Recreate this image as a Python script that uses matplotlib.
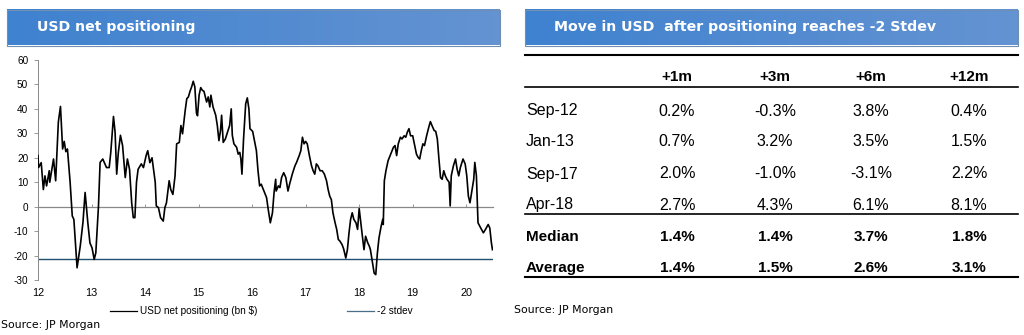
import matplotlib.pyplot as plt
import numpy as np
from matplotlib.patches import Rectangle

# USD net positioning (bn $), decimal year (12 = 2012)
years = [12.00, 12.01, 12.06, 12.10, 12.13, 12.16, 12.21, 12.22, 12.29, 12.33,
         12.38, 12.42, 12.46, 12.49, 12.52, 12.55, 12.60, 12.64, 12.67, 12.73,
         12.79, 12.84, 12.88, 12.93, 12.97, 13.01, 13.05, 13.08, 13.13, 13.16,
         13.21, 13.28, 13.33, 13.36, 13.41, 13.44, 13.47, 13.50, 13.54, 13.58,
         13.63, 13.67, 13.71, 13.75, 13.78, 13.81, 13.84, 13.87, 13.93, 13.97,
         14.02, 14.05, 14.09, 14.13, 14.19, 14.21, 14.25, 14.29, 14.34, 14.37,
         14.40, 14.45, 14.48, 14.52, 14.56, 14.59, 14.64, 14.67, 14.70, 14.75,
         14.78, 14.81, 14.84, 14.87, 14.90, 14.93, 14.96, 14.98, 15.01, 15.04,
         15.07, 15.10, 15.15, 15.18, 15.21, 15.23, 15.27, 15.32, 15.35, 15.38,
         15.41, 15.43, 15.46, 15.50, 15.54, 15.58, 15.61, 15.63, 15.66, 15.71,
         15.74, 15.77, 15.79, 15.81, 15.84, 15.88, 15.91, 15.94, 15.96, 16.01,
         16.05, 16.08, 16.11, 16.14, 16.17, 16.22, 16.27, 16.30, 16.34, 16.38,
         16.41, 16.44, 16.45, 16.49, 16.52, 16.55, 16.59, 16.63, 16.67, 16.70,
         16.75, 16.80, 16.83, 16.88, 16.91, 16.94, 16.97, 17.00, 17.03, 17.07,
         17.11, 17.14, 17.17, 17.20, 17.23, 17.27, 17.31, 17.35, 17.39, 17.42,
         17.45, 17.48, 17.51, 17.55, 17.58, 17.61, 17.64, 17.68, 17.71, 17.75,
         17.78, 17.81, 17.84, 17.87, 17.90, 17.94, 17.97, 18.00, 18.03, 18.06,
         18.09, 18.12, 18.16, 18.19, 18.21, 18.25, 18.28, 18.31, 18.34, 18.37,
         18.41, 18.44, 18.45, 18.47, 18.50, 18.54, 18.59, 18.64, 18.67, 18.70,
         18.73, 18.77, 18.80, 18.84, 18.87, 18.90, 18.93, 18.96, 19.00, 19.03,
         19.07, 19.10, 19.13, 19.16, 19.19, 19.22, 19.26, 19.30, 19.33, 19.36,
         19.40, 19.43, 19.46, 19.49, 19.52, 19.55, 19.58, 19.61, 19.64, 19.68,
         19.70, 19.72, 19.76, 19.80, 19.83, 19.86, 19.89, 19.94, 19.98, 20.01,
         20.04, 20.07, 20.11, 20.14, 20.16, 20.19, 20.21, 20.22, 20.27, 20.32,
         20.36, 20.41, 20.44, 20.47, 20.49]
positioning = [20.9, 16.0, 18.0, 7.0, 12.6, 8.5, 14.7, 10.0, 19.5, 10.6,
               34.6, 41.0, 23.6, 26.7, 22.5, 23.6, 10.0, -3.8, -5.2, -25.0,
               -16.0, -6.4, 5.8, -6.4, -14.8, -16.9, -21.6, -18.9, 0.3, 18.1,
               19.5, 16.0, 16.0, 22.3, 36.9, 30.5, 13.3, 22.0, 29.2, 25.0,
               11.9, 19.5, 15.3, 1.6, -4.5, -4.5, 10.0, 15.3, 17.5, 16.0,
               20.9, 22.9, 18.0, 20.0, 10.0, 0.3, -0.4, -4.5, -5.9, -0.4,
               1.6, 10.6, 7.0, 5.0, 12.6, 25.7, 26.3, 33.2, 29.8, 39.4,
               44.2, 44.9, 47.2, 49.0, 51.3, 49.0, 38.3, 37.2, 45.7, 48.7,
               47.6, 47.2, 42.8, 44.9, 40.8, 45.6, 40.8, 37.4, 33.2, 27.0,
               31.2, 37.4, 26.3, 27.7, 30.5, 33.2, 40.0, 29.2, 25.7, 24.3,
               21.5, 22.2, 19.5, 13.3, 27.7, 42.1, 44.5, 40.0, 31.9, 30.8,
               26.3, 22.9, 14.7, 8.5, 9.2, 6.4, 3.7, -1.0, -6.6, -2.5,
               5.8, 11.2, 6.4, 8.5, 7.8, 11.9, 13.9, 11.9, 6.4, 9.2,
               13.3, 16.7, 18.1, 20.9, 22.9, 28.4, 25.7, 26.7, 25.7, 20.9,
               16.7, 14.7, 13.3, 17.5, 16.7, 14.7, 14.7, 13.3, 10.6, 7.0,
               4.3, 2.9, -2.5, -6.6, -9.3, -13.4, -14.1, -15.5, -17.3, -21.0,
               -17.6, -10.7, -5.2, -2.5, -5.2, -6.6, -9.3, -0.8, -6.6, -12.1,
               -17.6, -12.1, -14.8, -16.2, -17.6, -23.0, -27.2, -27.8, -19.0, -12.8,
               -8.0, -5.2, -7.3, 10.6, 14.7, 18.8, 21.5, 24.3, 25.0, 20.9,
               25.7, 28.4, 27.7, 29.0, 28.4, 30.5, 31.9, 29.0, 29.0, 25.7,
               21.5, 20.2, 19.5, 22.9, 25.7, 25.0, 29.0, 32.5, 34.8, 33.2,
               31.2, 30.8, 27.7, 19.5, 11.9, 11.2, 14.7, 12.6, 11.2, 10.0,
               0.3, 12.6, 16.7, 19.5, 15.3, 12.6, 16.0, 19.5, 17.5, 12.6,
               4.3, 1.6, 7.0, 11.2, 18.1, 12.6, 0.3, -6.6, -8.7, -10.7,
               -9.3, -7.3, -8.7, -14.8, -17.6]
minus_2_stdev = -21.5
year_ticks = [12, 13, 14, 15, 16, 17, 18, 19, 20]
y_ticks = [-30, -20, -10, 0, 10, 20, 30, 40, 50, 60]

# Table: USD move after positioning reaches -2 stdev
col_labels = ["+1m", "+3m", "+6m", "+12m"]
row_labels = ["Sep-12", "Jan-13", "Sep-17", "Apr-18"]
row_values = [["0.2%", "-0.3%", "3.8%", "0.4%"],
              ["0.7%", "3.2%", "3.5%", "1.5%"],
              ["2.0%", "-1.0%", "-3.1%", "2.2%"],
              ["2.7%", "4.3%", "6.1%", "8.1%"]]
summary_labels = ["Median", "Average"]
summary_values = [["1.4%", "1.4%", "3.7%", "1.8%"],
                  ["1.4%", "1.5%", "2.6%", "3.1%"]]

W, H = 1024, 335
fig = plt.figure(figsize=(W / 100, H / 100), dpi=100)
fig.patch.set_facecolor("white")

tick_font = "Liberation Sans"
stdev_color = "#1f5070"

# ---- left chart ----
ax = fig.add_axes([38 / W, 1 - 280 / H, 455 / W, 220 / H])
ax.plot(years, positioning, color="black", lw=1.2, zorder=3)
ax.axhline(minus_2_stdev, color=stdev_color, lw=1.0, zorder=2)
ax.set_xlim(12, 20.5)
ax.set_ylim(-30, 60)
ax.set_yticks(y_ticks)
ax.set_yticklabels([str(v) for v in y_ticks], fontsize=7.2, family=tick_font)
ax.tick_params(axis="y", length=3, width=0.6, color="#888888", pad=4)
for s in ["top", "right"]:
    ax.spines[s].set_visible(False)
ax.spines["left"].set_color("#888888")
ax.spines["left"].set_linewidth(0.7)
# horizontal axis crosses at zero, labels sit at the bottom
ax.spines["bottom"].set_position(("data", 0))
ax.spines["bottom"].set_color("#888888")
ax.spines["bottom"].set_linewidth(0.9)
ax.set_xticks(year_ticks)
ax.tick_params(axis="x", length=2, width=0.6, color="#888888",
               direction="in", labelbottom=False)
sec = ax.secondary_xaxis("bottom")
sec.set_xticks(year_ticks)
sec.set_xticklabels([str(v) for v in year_ticks], fontsize=7.8, family=tick_font)
sec.tick_params(length=0, pad=6)
sec.spines["bottom"].set_visible(False)

fig.legend(
    handles=[plt.Line2D([], [], color="black", lw=0.9),
             plt.Line2D([], [], color="#4a6d88", lw=0.9)],
    labels=["USD net positioning (bn $)", "-2 stdev"],
    loc="center", bbox_to_anchor=(261 / W, 1 - 311 / H), ncol=2,
    frameon=False, prop={"family": tick_font, "size": 7.2},
    handlelength=2.7, handletextpad=0.3, columnspacing=9.0)

# ---- overlay in pixel coordinates for headers and table ----
ov = fig.add_axes([0, 0, 1, 1], zorder=-1)
ov.axis("off")

hdr_cmap = plt.matplotlib.colors.LinearSegmentedColormap.from_list(
    "hdr", ["#3f82cf", "#6493d2"])
for x0, x1, title, tx in [(7, 500, "USD net positioning", 37),
                          (525, 1018, "Move in USD  after positioning reaches -2 Stdev", 554)]:
    grad = np.linspace(0, 1, 64).reshape(1, -1)
    ov.imshow(grad, extent=(x0, x1, 45.5, 9.5), aspect="auto",
              cmap=hdr_cmap, zorder=1)
    ov.add_patch(Rectangle((x0, 9.5), x1 - x0, 36, fill=False,
                           ec="#6f8fb3", lw=0.8, zorder=2))
    ov.text(tx, 27.5, title, color="white", fontsize=10.2, fontweight="bold",
            family="DejaVu Sans", va="center", ha="left", zorder=3)
ov.set_xlim(0, W)
ov.set_ylim(H, 0)

tx0, tx1 = 525, 1018
for yy, lw in [(55, 1.5), (87, 1.2), (214, 1.2), (277, 1.5)]:
    ov.plot([tx0, tx1], [yy, yy], color="black", lw=lw, zorder=2)

col_x = [677, 775, 871, 969]
for cx, lab in zip(col_x, col_labels):
    ov.text(cx, 77, lab, ha="center", va="center", fontsize=11,
            fontweight="bold", family=tick_font)

row_y = [111, 142, 174, 205]
for ry, lab, vals in zip(row_y, row_labels, row_values):
    ov.text(526, ry, lab, ha="left", va="center", fontsize=11.5, family=tick_font)
    for cx, v in zip(col_x, vals):
        ov.text(cx, ry, v, ha="center", va="center", fontsize=11.5, family=tick_font)

sum_y = [237, 268]
for ry, lab, vals in zip(sum_y, summary_labels, summary_values):
    ov.text(526, ry, lab, ha="left", va="center", fontsize=11,
            fontweight="bold", family=tick_font)
    for cx, v in zip(col_x, vals):
        ov.text(cx, ry, v, ha="center", va="center", fontsize=11,
                fontweight="bold", family=tick_font)

ov.text(1, 325, "Source: JP Morgan", ha="left", va="center", fontsize=7.8,
        family="DejaVu Sans")
ov.text(514, 310, "Source: JP Morgan", ha="left", va="center", fontsize=7.8,
        family="DejaVu Sans")

fig.savefig("out.png", dpi=100)
